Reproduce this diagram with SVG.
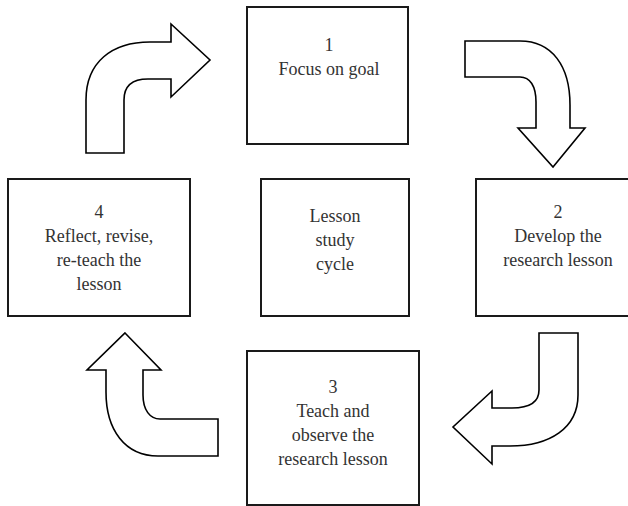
<svg xmlns="http://www.w3.org/2000/svg" width="628" height="506" viewBox="0 0 628 506">
<style>
.box{fill:#fff;stroke:#1a1a1a;stroke-width:2}
.arr{fill:#fff;stroke:#000;stroke-width:1.6;stroke-linejoin:miter}
text{font-family:"Liberation Serif","Times New Roman",serif;font-size:18px;fill:#333;text-anchor:middle}
</style>
<rect width="628" height="506" fill="#fff"/>
<g id="connectors">
<path class="arr" d="M86,153 L86,100 C86,62 112,42 150,42 L171,42 L171,24 L210,60 L171,97 L171,79 L148,79 C132,79 124,86 124,100 L124,153 Z"/>
<path class="arr" d="M465,41 L520,41 C552,41 570,66 570,105 L570,128 L585,128 L553,167 L518,128 L536,128 L536,102 C536,86 530,77 520,77 L465,77 Z"/>
<path class="arr" d="M539,333 L578,333 L578,395 C578,428 550,446 510,446 L492,446 L492,464 L453,427 L492,391 L492,408 L512,408 C530,408 539,402 539,390 Z"/>
<path class="arr" d="M125,333 L161,370 L143,370 L143,395 C143,410 150,419 160,419 L218,419 L218,456 L158,456 C125,456 106,430 106,392 L106,370 L87,370 Z"/>
</g>
<g id="node1">
<rect class="box" x="247" y="7" width="161" height="137"/>
<text x="329" y="51">1</text>
<text x="329" y="75">Focus on goal</text>
</g>
<g id="node2">
<rect class="box" x="476" y="179" width="170" height="137"/>
<text x="558" y="218">2</text>
<text x="558" y="242">Develop the</text>
<text x="558" y="266">research lesson</text>
</g>
<g id="node3">
<rect class="box" x="247" y="351" width="172" height="154"/>
<text x="333" y="393">3</text>
<text x="333" y="417">Teach and</text>
<text x="333" y="441">observe the</text>
<text x="333" y="465">research lesson</text>
</g>
<g id="node4">
<rect class="box" x="8" y="179" width="182" height="137"/>
<text x="99" y="218">4</text>
<text x="99" y="242">Reflect, revise,</text>
<text x="99" y="266">re-teach the</text>
<text x="99" y="290">lesson</text>
</g>
<g id="center">
<rect class="box" x="261" y="179" width="148" height="137"/>
<text x="335" y="222">Lesson</text>
<text x="335" y="246">study</text>
<text x="335" y="270">cycle</text>
</g>
</svg>
